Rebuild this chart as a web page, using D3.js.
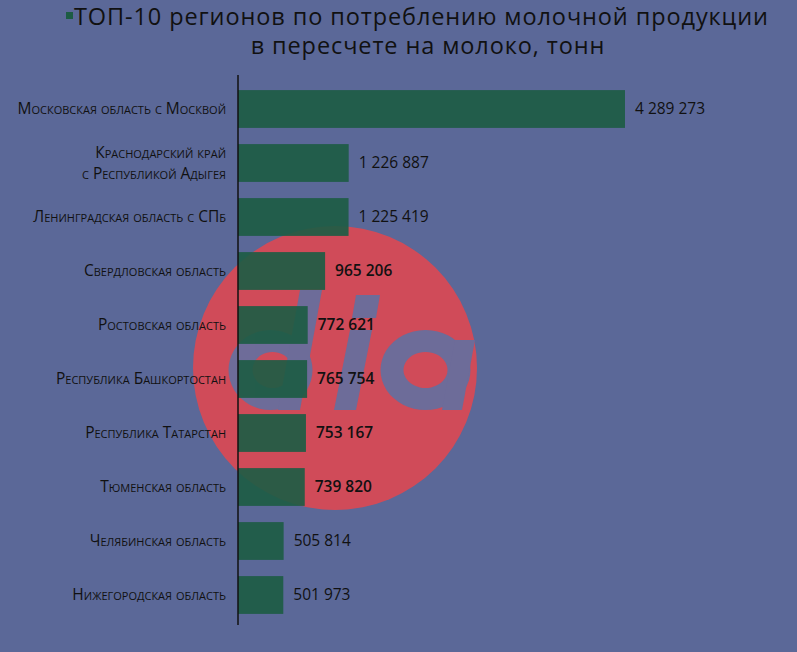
<!DOCTYPE html>
<html><head><meta charset="utf-8">
<script src="https://cdn.jsdelivr.net/npm/d3@7"></script>
<style>body{margin:0;background:#5b6898;}</style>
</head><body>
<svg id="c" width="797" height="652"></svg>
<script>
const categories = [
  ["Московская область с Москвой"],
  ["Краснодарский край","с Республикой Адыгея"],
  ["Ленинградская область с СПб"],
  ["Свердловская область"],
  ["Ростовская область"],
  ["Республика Башкортостан"],
  ["Республика Татарстан"],
  ["Тюменская область"],
  ["Челябинская область"],
  ["Нижегородская область"]
];
const values = [4289273,1226887,1225419,965206,772621,765754,753167,739820,505814,501973];
const titleLines = ["ТОП-10 регионов по потреблению молочной продукции","в пересчете на молоко, тонн"];

const svg = d3.select("#c");
svg.append("rect").attr("width",797).attr("height",652).attr("fill","#5b6898");

// watermark (shapes, not text)
const bg = "#6370a0";
svg.append("circle").attr("cx",335).attr("cy",368).attr("r",142).attr("fill","#e5474d").attr("opacity",0.85);
const wm = svg.append("g").attr("fill",bg).attr("opacity",0.9);
wm.append("path").attr("fill-rule","evenodd")
  .attr("d","M270,330 a42,40 0 1,0 1,0 Z M272,352 a20,18 0 1,0 1,0 Z");
wm.append("path").attr("d","M300,290 L322,290 L300,410 L278,410 Z");
wm.append("path").attr("d","M350,330 L372,330 L356,410 L334,410 Z");
wm.append("path").attr("d","M356,295 L380,295 L376,318 L352,318 Z");
wm.append("path").attr("fill-rule","evenodd")
  .attr("d","M425,330 a45,40 0 1,0 1,0 Z M425,352 a22,18 0 1,0 1,0 Z");
wm.append("path").attr("d","M455,340 L475,340 L462,410 L442,410 Z");

const x = d3.scaleLinear().domain([0,4289273]).range([238,625]);
const y = d3.scaleBand().domain(d3.range(values.length)).range([82,622]).paddingInner(0.3).paddingOuter(0.15);

svg.selectAll(".bar").data(values).join("rect")
  .attr("x",x(0)).attr("y",(d,i)=>y(i)).attr("width",d=>x(d)-x(0)).attr("height",y.bandwidth())
  .attr("fill","#1d5c44").attr("opacity",0.92);

const fmt = v => d3.format(",")(v).replace(/,/g," ");
svg.selectAll(".val").data(values).join("text")
  .attr("x",d=>x(d)+10).attr("y",(d,i)=>y(i)+y.bandwidth()/2+5)
  .attr("font-family","Open Sans, sans-serif").attr("font-size",15.5).attr("fill","#111")
  .attr("font-weight",(d,i)=>(i>=3&&i<=7)?600:400).text(fmt);

categories.forEach((lines,i)=>{
  const cy = y(i)+y.bandwidth()/2;
  const t = svg.append("text").attr("text-anchor","end")
    .attr("font-family","Open Sans, sans-serif").attr("font-size",15.5).attr("fill","#111")
    .style("font-variant","small-caps");
  lines.forEach((l,j)=>{
    t.append("tspan").attr("x",226).attr("y",cy+5+(j-(lines.length-1)/2)*21).text(l);
  });
});

svg.append("line").attr("x1",238).attr("x2",238).attr("y1",75).attr("y2",625).attr("stroke","#111").attr("stroke-width",1.5);

svg.append("rect").attr("x",66).attr("y",12).attr("width",7).attr("height",7).attr("fill","#1d5c44");
titleLines.forEach((t,j)=>{
  svg.append("text").attr("x",j?428:74).attr("y",25+j*29).attr("text-anchor",j?"middle":"start")
    .attr("font-family","Open Sans, sans-serif").attr("font-size",23.5).attr("letter-spacing",0.9)
    .attr("fill","#111").text(t);
});
</script>
</body></html>
